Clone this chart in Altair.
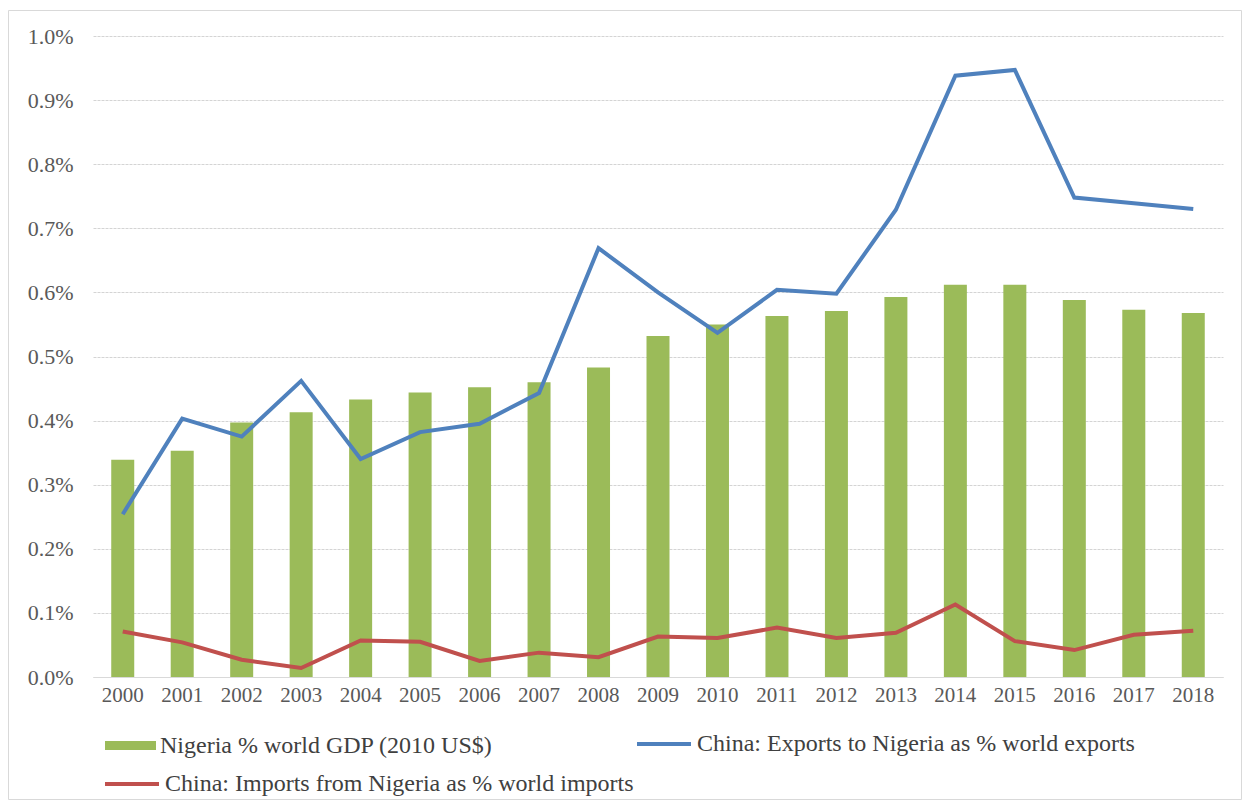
import altair as alt
import pandas as pd

years = [str(y) for y in range(2000, 2019)]
gdp_share = [0.339, 0.353, 0.397, 0.413, 0.433, 0.444, 0.452, 0.460, 0.483, 0.532,
             0.550, 0.563, 0.571, 0.593, 0.612, 0.612, 0.588, 0.573, 0.568]
exports_share = [0.254, 0.403, 0.375, 0.462, 0.340, 0.382, 0.395, 0.443, 0.669, 0.600,
                 0.537, 0.604, 0.598, 0.729, 0.938, 0.947, 0.748, 0.739, 0.730]
imports_share = [0.071, 0.054, 0.027, 0.014, 0.057, 0.055, 0.025, 0.038, 0.031, 0.063,
                 0.061, 0.077, 0.061, 0.069, 0.113, 0.056, 0.042, 0.066, 0.072]
y_ticks = [0.0, 0.1, 0.2, 0.3, 0.4, 0.5, 0.6, 0.7, 0.8, 0.9, 1.0]

S_GDP = "Nigeria % world GDP (2010 US$)"
S_EXP = "China: Exports to Nigeria as % world exports"
S_IMP = "China: Imports from Nigeria as % world imports"

GREEN = "#9BBB59"
BLUE = "#4F81BD"
RED = "#C0504D"
FONT = "'Liberation Serif', 'Times New Roman', Times, serif"
LEG_FS = 24

df = pd.DataFrame({"year": years, "gdp": gdp_share, "exp": exports_share, "imp": imports_share})
df["s_gdp"] = S_GDP
df["s_exp"] = S_EXP
df["s_imp"] = S_IMP

x_enc = alt.X("year:N", title=None, sort=years,
              scale=alt.Scale(paddingInner=0.61, paddingOuter=0.305),
              axis=alt.Axis(labelAngle=0, ticks=False, domain=True, domainColor="#d9d9d9",
                            labelPadding=7, grid=False, labelFontSize=21))

y_scale = alt.Scale(domain=[0, 1.0], nice=False)
y_axis = alt.Axis(values=y_ticks, labelExpr="format(datum.value, '.1f') + '%'",
                  ticks=False, domain=False, labelPadding=20, grid=True, labelFontSize=22,
                  gridColor="#d4d4d4", gridDash=[3, 1], gridWidth=1)

base = alt.Chart(df)

bars = base.mark_bar(size=23).encode(
    x=x_enc,
    y=alt.Y("gdp:Q", title=None, scale=y_scale, axis=y_axis),
    fill=alt.Fill("s_gdp:N", scale=alt.Scale(domain=[S_GDP], range=[GREEN]),
                  legend=alt.Legend(title=None, orient="none", legendX=12, legendY=684,
                                    symbolType="M-1,-0.18L1,-0.18L1,0.18L-1,0.18Z",
                                    symbolSize=2601, symbolStrokeWidth=0,
                                    labelFont=FONT, labelFontSize=LEG_FS, labelColor="#404040",
                                    labelOffset=4, padding=0, labelLimit=800)),
)

exp_line = base.mark_line(strokeWidth=4, strokeJoin="miter", strokeCap="butt").encode(
    x=x_enc,
    y=alt.Y("exp:Q", scale=y_scale),
    stroke=alt.Stroke("s_exp:N", scale=alt.Scale(domain=[S_EXP], range=[BLUE]),
                      legend=alt.Legend(title=None, orient="none", legendX=542, legendY=679,
                                        symbolType="stroke", symbolSize=2916,
                                        symbolStrokeWidth=4,
                                        labelFont=FONT, labelFontSize=LEG_FS, labelColor="#404040",
                                        labelOffset=4, padding=0, labelLimit=800)),
)

imp_line = base.mark_line(strokeWidth=4, strokeJoin="miter", strokeCap="butt").encode(
    x=x_enc,
    y=alt.Y("imp:Q", scale=y_scale),
    color=alt.Color("s_imp:N", scale=alt.Scale(domain=[S_IMP], range=[RED]),
                    legend=alt.Legend(title=None, orient="none", legendX=10, legendY=719,
                                      symbolType="stroke", symbolSize=2916,
                                      symbolStrokeWidth=4,
                                      labelFont=FONT, labelFontSize=LEG_FS, labelColor="#404040",
                                      labelOffset=4, padding=0, labelLimit=800)),
)

frame = alt.Chart(pd.DataFrame({"f": [0]})).mark_rect(
    fill=None, stroke="#d9d9d9", strokeWidth=1
).encode(
    x=alt.value(-84.5), x2=alt.value(1148.5), y=alt.value(-25.5), y2=alt.value(763.5)
)

chart = alt.layer(bars, exp_line, imp_line, frame).resolve_scale(
    fill="independent", stroke="independent", color="independent"
).properties(
    width=1130, height=641,
    padding={"left": 85, "top": 28, "right": 20, "bottom": 123},
    autosize=alt.AutoSizeParams(type="none"),
).configure_view(stroke=None).configure_axis(
    labelFont=FONT, labelColor="#595959"
).configure_legend(labelFont=FONT)

chart.save("out.html", embed_options={"renderer": "svg", "actions": False})
